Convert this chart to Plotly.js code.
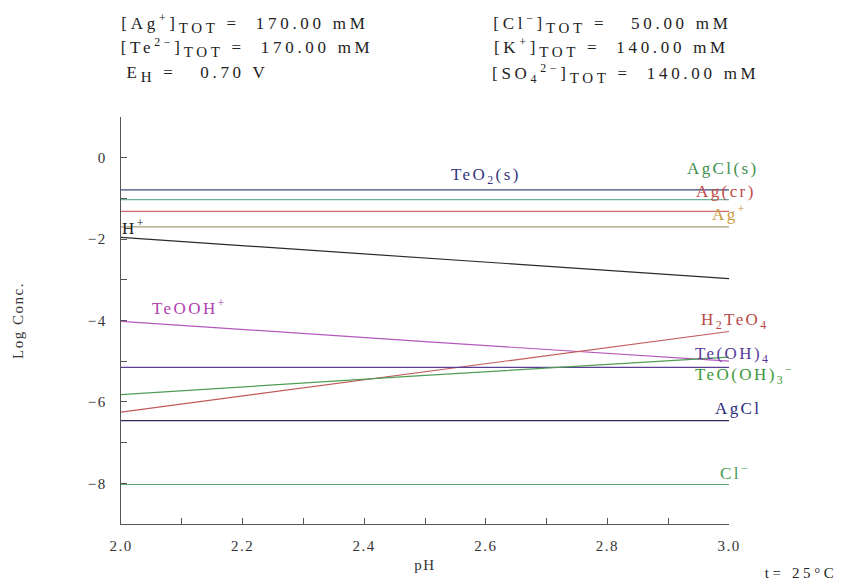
<!DOCTYPE html>
<html>
<head>
<meta charset="utf-8">
<script src="https://cdn.plot.ly/plotly-3.0.1.min.js"></script>
<style>
  html, body { margin: 0; padding: 0; background: #fff; }
  #chart { width: 847px; height: 584px; }
  /* wide, airy serif lettering */
  .annotation-text { letter-spacing: 2.4px; }
  .annotation[data-index="11"] .annotation-text,
  .annotation[data-index="12"] .annotation-text,
  .annotation[data-index="13"] .annotation-text,
  .annotation[data-index="14"] .annotation-text,
  .annotation[data-index="15"] .annotation-text,
  .annotation[data-index="16"] .annotation-text { letter-spacing: 3.7px; }
  .annotation[data-index="17"] .annotation-text { letter-spacing: 3.6px; }
  .xtick text, .ytick text { letter-spacing: 1.5px; }
  .g-xtitle text, .g-ytitle text { letter-spacing: 1.5px; }
</style>
</head>
<body>
<div id="chart"></div>
<script>
// pH sample points shared by every species curve
const pH = [2.0, 2.5, 3.0];

// log10 concentration of each species at the pH points above
const TeO2s    = [-0.79, -0.79, -0.79];
const AgCls    = [-1.03, -1.03, -1.03];
const Agcr     = [-1.32, -1.32, -1.32];
const AgPlus   = [-1.70, -1.70, -1.70];
const HPlus    = [-1.96, -2.47, -2.97];
const TeOOH    = [-4.02, -4.52, -5.00];
const H2TeO4   = [-6.25, -5.26, -4.27];
const TeOH4    = [-5.15, -5.15, -5.15];
const TeOOH3   = [-5.82, -5.35, -4.90];
const AgClAq   = [-6.46, -6.46, -6.46];
const ClMinus  = [-8.03, -8.03, -8.03];

// species names as printed next to the curves
const speciesNames = [
  'TeO<sub>2</sub>(s)', 'AgCl(s)', 'Ag(cr)', 'Ag<sup>+</sup>', 'H<sup>+</sup>',
  'TeOOH<sup>+</sup>', 'H<sub>2</sub>TeO<sub>4</sub>', 'Te(OH)<sub>4</sub>',
  'TeO(OH)<sub>3</sub><sup>\u2212</sup>', 'AgCl', 'Cl<sup>\u2212</sup>'
];

// full-height "TOT" subscript
const TOT = '<sub><span style="font-size:15px">TOT</span></sub>';

// total concentrations shown above the plot
const totalsLeft = [
  '[Ag<sup>+</sup>]' + TOT + ' =\u00a0\u00a0170.00 mM',
  '[Te<sup>2\u2212</sup>]' + TOT + ' =\u00a0\u00a0170.00 mM',
  'E<sub><span style="font-size:15px">H</span></sub> =\u00a0\u00a0\u00a00.70 V'
];
const totalsRight = [
  '[Cl<sup>\u2212</sup>]' + TOT + ' =\u00a0\u00a0\u00a050.00 mM',
  '[K<sup>+</sup>]' + TOT + ' =\u00a0\u00a0140.00 mM',
  '[SO<sub>4</sub><sup>2\u2212</sup>]' + TOT + ' =\u00a0\u00a0140.00 mM'
];

const serif = '"Liberation Serif", "DejaVu Serif", serif';

const xRange = [2.0, 3.0];
const yRange = [-9, 1];

const series = [
  { y: TeO2s,  line: '#3b4a78', label: '#35367f', lx: 2.60, ly: -0.46 },
  { y: AgCls,  line: '#6fb0a0', label: '#3f8f4f', lx: 2.99, ly: -0.27 },
  { y: Agcr,   line: '#cf6a6a', label: '#c04848', lx: 2.995, ly: -0.83 },
  { y: AgPlus, line: '#a89c78', label: '#c89a3c', lx: 3.0, ly: -1.37 },
  { y: HPlus,  line: '#2a2a2a', label: '#222222', lx: 2.022, ly: -1.71 },
  { y: TeOOH,  line: '#b458bc', label: '#b040b0', lx: 2.112, ly: -3.66 },
  { y: H2TeO4, line: '#c25a5a', label: '#b84848', lx: 3.01, ly: -4.00 },
  { y: TeOH4,  line: '#5b3f92', label: '#5a3a9a', lx: 3.005, ly: -4.85 },
  { y: TeOOH3, line: '#4f9d55', label: '#3a9a3a', lx: 3.025, ly: -5.32 },
  { y: AgClAq, line: '#2b2b55', label: '#2a2a7a', lx: 3.015, ly: -6.15 },
  { y: ClMinus,line: '#5aa56a', label: '#3f9a55', lx: 3.01, ly: -7.73 }
];

const traces = series.map((s, i) => ({
  x: pH,
  y: s.y,
  type: 'scatter',
  mode: 'lines',
  name: speciesNames[i],
  line: { color: s.line, width: 1.2 },
  hoverinfo: 'skip'
}));

// curve labels live in paper space so the ones past pH 3 still show
const toPaperX = v => (v - xRange[0]) / (xRange[1] - xRange[0]);
const toPaperY = v => (v - yRange[0]) / (yRange[1] - yRange[0]);

const annotations = series.map((s, i) => ({
  x: toPaperX(s.lx), y: toPaperY(s.ly), xref: 'paper', yref: 'paper',
  text: speciesNames[i], showarrow: false,
  font: { family: serif, size: 17, color: s.label },
  xanchor: 'center', yanchor: 'middle'
}));

// paper-space rows for the header block
const headerRows = [1.23, 1.17, 1.106];
totalsLeft.forEach((t, i) => annotations.push({
  x: 0.02, y: headerRows[i], xref: 'paper', yref: 'paper',
  text: t, showarrow: false, xanchor: 'left', yanchor: 'middle',
  font: { family: serif, size: 17, color: '#222' }
}));
totalsRight.forEach((t, i) => annotations.push({
  x: 0.632, y: headerRows[i], xref: 'paper', yref: 'paper',
  text: t, showarrow: false, xanchor: 'left', yanchor: 'middle',
  font: { family: serif, size: 17, color: '#222' }
}));

// temperature note, bottom right
annotations.push({
  x: 1.118, y: -0.121, xref: 'paper', yref: 'paper',
  text: 't= 25\u00b0C', showarrow: false, xanchor: 'center', yanchor: 'middle',
  font: { family: serif, size: 15, color: '#222' }
});

const layout = {
  width: 847, height: 584,
  margin: { l: 121, r: 118, t: 117, b: 60 },
  paper_bgcolor: '#fff', plot_bgcolor: '#fff',
  showlegend: false,
  font: { family: serif, size: 14, color: '#333' },
  xaxis: {
    range: xRange,
    tickvals: [2.0, 2.2, 2.4, 2.6, 2.8, 3.0],
    ticktext: ['2.0', '2.2', '2.4', '2.6', '2.8', '3.0'],
    ticks: 'inside', ticklen: 6, tickcolor: '#555', tickwidth: 1,
    minor: { dtick: 0.1, tick0: 2.0, ticks: 'inside', ticklen: 6, tickcolor: '#555' },
    showline: true, linecolor: '#555', linewidth: 1.2,
    showgrid: false, zeroline: false,
    ticklabelstandoff: 8,
    tickfont: { family: serif, size: 15, color: '#333' },
    title: { text: 'pH', font: { family: serif, size: 15, color: '#333' }, standoff: 6 }
  },
  yaxis: {
    range: yRange,
    tickvals: [0, -2, -4, -6, -8],
    ticks: 'inside', ticklen: 6, tickcolor: '#555', tickwidth: 1,
    minor: { dtick: 1, tick0: 0, ticks: 'inside', ticklen: 6, tickcolor: '#555' },
    showline: true, linecolor: '#555', linewidth: 1.2,
    showgrid: false, zeroline: false,
    ticklabelstandoff: 10,
    tickfont: { family: serif, size: 15, color: '#333' },
    title: { text: 'Log Conc.', font: { family: serif, size: 15, color: '#333' }, standoff: 60 }
  },
  annotations: annotations
};

Plotly.newPlot('chart', traces, layout, { displayModeBar: false, staticPlot: true });
</script>
</body>
</html>
